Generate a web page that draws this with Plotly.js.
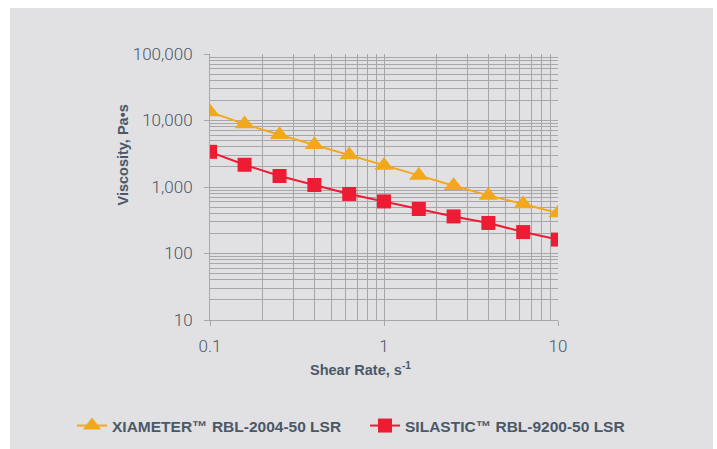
<!DOCTYPE html>
<html>
<head>
<meta charset="utf-8">
<script src="https://cdn.plot.ly/plotly-3.0.1.min.js"></script>
<style>
  html, body { margin: 0; padding: 0; background: #ffffff; }
  #chart { position: absolute; left: 10px; top: 8px; width: 703px; height: 441px; }
</style>
</head>
<body>
<div id="chart"></div>
<script>
// Shear rate (s^-1)
const shearRate = [0.1, 0.158, 0.251, 0.398, 0.631, 1, 1.585, 2.512, 3.981, 6.31, 10];
// Viscosity (Pa·s)
const xiameter = [13400, 8830, 6100, 4310, 3020, 2110, 1495, 1045, 748, 555, 407];
const silastic = [3380, 2160, 1463, 1072, 786, 607, 467, 361, 288, 210, 162];
const seriesNames = ['XIAMETER\u2122 RBL-2004-50 LSR', 'SILASTIC\u2122 RBL-9200-50 LSR'];

const textColor = '#4a5868';
const gridColor = '#a7a7a9';
const bg = '#e1e1e3';

const traces = [
  {
    x: shearRate, y: xiameter, name: seriesNames[0], type: 'scatter', mode: 'lines+markers',
    legend: 'legend',
    line: { color: '#f2a81d', width: 2 },
    marker: { symbol: 'triangle-up', size: 17, color: '#f2a81d' }
  },
  {
    x: shearRate, y: silastic, name: seriesNames[1], type: 'scatter', mode: 'lines+markers',
    legend: 'legend2',
    line: { color: '#ee1c33', width: 2 },
    marker: { symbol: 'square', size: 14, color: '#ee1c33' }
  }
];

const tickFont = { family: 'Roboto, "Liberation Sans", sans-serif', size: 17, color: textColor, weight: 300 };
const boldFont = { family: '"Liberation Sans", Arial, sans-serif', size: 14.5, color: textColor, weight: 'bold' };
const legendFont = { family: '"Liberation Sans", Arial, sans-serif', size: 15.5, color: textColor, weight: 'bold' };

const layout = {
  width: 703, height: 441,
  margin: { l: 200, r: 155, t: 46, b: 129 },
  paper_bgcolor: bg, plot_bgcolor: bg,
  showlegend: true,
  xaxis: {
    type: 'log', range: [-1, 1], dtick: 1,
    showgrid: true, gridcolor: gridColor, gridwidth: 1,
    minor: { dtick: 'D1', showgrid: true, gridcolor: gridColor, gridwidth: 1, ticks: '' },
    ticks: 'outside', ticklen: 5, tickcolor: gridColor,
    showline: true, linecolor: gridColor, linewidth: 1,
    zeroline: false, tickfont: tickFont, ticklabelstandoff: 6
  },
  yaxis: {
    type: 'log', range: [1, 5], dtick: 1, tickformat: ',.0f',
    showgrid: true, gridcolor: gridColor, gridwidth: 1,
    minor: { dtick: 'D1', showgrid: true, gridcolor: gridColor, gridwidth: 1, ticks: '' },
    ticks: 'outside', ticklen: 5, tickcolor: gridColor,
    showline: true, linecolor: gridColor, linewidth: 1,
    zeroline: false, tickfont: tickFont, ticklabelstandoff: 8
  },
  annotations: [
    { text: 'Shear Rate, s<sup>-1</sup>', xref: 'paper', yref: 'paper', x: 0.4325, y: -0.184,
      xanchor: 'center', yanchor: 'middle', showarrow: false, font: boldFont },
    { text: 'Viscosity, Pa\u2022s', xref: 'paper', yref: 'paper', x: -0.2486, y: 0.6203,
      xanchor: 'center', yanchor: 'middle', showarrow: false, textangle: -90, font: boldFont }
  ],
  legend: {
    orientation: 'h', xref: 'container', yref: 'container',
    x: 0.0882, xanchor: 'left', y: 0.0522, yanchor: 'middle',
    font: legendFont, bgcolor: 'rgba(0,0,0,0)', itemsizing: 'trace'
  },
  legend2: {
    orientation: 'h', xref: 'container', yref: 'container',
    x: 0.505, xanchor: 'left', y: 0.0522, yanchor: 'middle',
    font: legendFont, bgcolor: 'rgba(0,0,0,0)', itemsizing: 'trace'
  }
};

Plotly.newPlot('chart', traces, layout, { displayModeBar: false, staticPlot: true });
</script>
</body>
</html>
